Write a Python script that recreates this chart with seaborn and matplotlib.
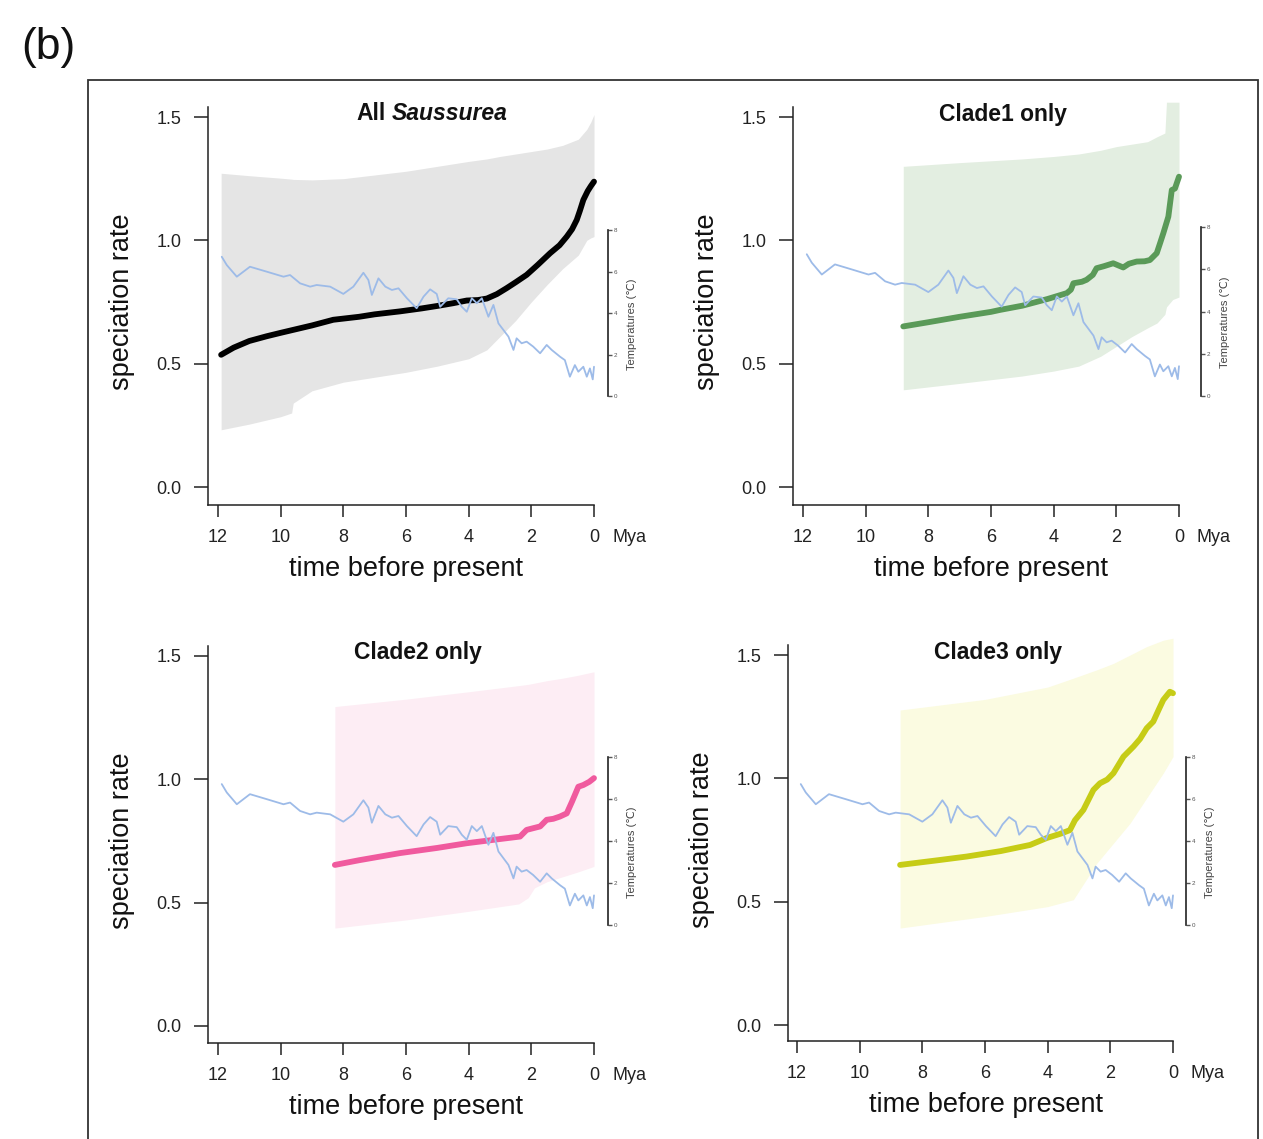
import matplotlib.pyplot as plt
import seaborn as sns
from matplotlib.patches import Rectangle

# palaeo-temperature curve (Mya, degrees C), shared by all panels
temp_age = [11.88, 11.72, 11.40, 11.19, 10.98, 10.44, 9.91, 9.70, 9.38, 9.06, 8.85, 8.42, 8.00,
            7.68, 7.36, 7.20, 7.09, 6.88, 6.66, 6.45, 6.24, 5.97, 5.66, 5.44, 5.23, 5.02, 4.91,
            4.65, 4.38, 4.22, 4.06, 3.90, 3.74, 3.58, 3.37, 3.21, 3.05, 2.89, 2.73, 2.57, 2.47,
            2.31, 2.15, 1.94, 1.72, 1.51, 1.35, 1.08, 0.93, 0.77, 0.61, 0.50, 0.34, 0.23, 0.13,
            0.04, 0.00]
temp_c = [6.71, 6.31, 5.75, 5.99, 6.23, 5.99, 5.75, 5.83, 5.43, 5.27, 5.35, 5.27, 4.92,
          5.27, 5.94, 5.59, 4.87, 5.67, 5.27, 5.11, 5.19, 4.71, 4.23, 4.79, 5.14, 4.92, 4.30,
          4.71, 4.66, 4.30, 4.06, 4.71, 4.47, 4.71, 3.82, 4.39, 3.50, 3.18, 2.86, 2.22, 2.78,
          2.54, 2.62, 2.38, 2.06, 2.46, 2.22, 1.89, 1.73, 0.93, 1.49, 1.17, 1.41, 0.93, 1.33,
          0.80, 1.41]

# All Saussurea
all_age = [11.9, 11.5, 11.0, 10.45, 10.0, 9.5, 9.0, 8.32, 7.5, 7.0, 6.19, 5.5, 5.0, 4.5, 4.06,
           3.7, 3.42, 3.1, 2.79, 2.5, 2.15, 1.8, 1.4, 1.1, 0.87, 0.7, 0.55, 0.45, 0.34, 0.2, 0.1, 0.0]
all_rate = [0.536, 0.565, 0.592, 0.611, 0.625, 0.64, 0.655, 0.678, 0.69, 0.70, 0.712, 0.724,
            0.734, 0.745, 0.756, 0.758, 0.764, 0.782, 0.806, 0.83, 0.86, 0.90, 0.948, 0.98,
            1.015, 1.045, 1.083, 1.12, 1.164, 1.20, 1.22, 1.238]
all_ci_age = [11.9, 11.0, 10.0, 9.65, 9.6, 9.0, 8.0, 7.0, 6.0, 5.0, 4.0, 3.42, 3.0, 2.5, 2.0,
              1.5, 1.0, 0.5, 0.23, 0.1, 0.0]
all_ci_lo = [0.232, 0.255, 0.285, 0.30, 0.34, 0.39, 0.425, 0.445, 0.465, 0.49, 0.52, 0.556,
             0.61, 0.675, 0.75, 0.82, 0.885, 0.94, 1.0, 1.01, 1.015]
all_ci_hi = [1.272, 1.262, 1.252, 1.248, 1.247, 1.245, 1.25, 1.265, 1.28, 1.30, 1.32, 1.33,
             1.34, 1.35, 1.36, 1.37, 1.385, 1.41, 1.45, 1.48, 1.51]

# Clade1
c1_age = [8.8, 8.0, 7.0, 6.0, 5.71, 5.0, 4.2, 3.58, 3.45, 3.37, 3.1, 2.95, 2.75, 2.63, 2.4,
          2.1, 1.78, 1.6, 1.35, 1.1, 0.93, 0.71, 0.6, 0.5, 0.34, 0.23, 0.13, 0.0]
c1_rate = [0.651, 0.668, 0.69, 0.71, 0.718, 0.735, 0.762, 0.786, 0.80, 0.826, 0.832, 0.84,
           0.86, 0.887, 0.895, 0.907, 0.89, 0.905, 0.914, 0.915, 0.92, 0.948, 0.99, 1.029,
           1.096, 1.204, 1.21, 1.258]
c1_ci_age = [8.8, 7.0, 5.0, 4.0, 3.2, 2.5, 2.0, 1.5, 1.0, 0.7, 0.45, 0.4, 0.2, 0.0]
c1_ci_lo = [0.394, 0.42, 0.45, 0.47, 0.49, 0.53, 0.57, 0.61, 0.645, 0.665, 0.70, 0.73, 0.76, 0.77]
c1_ci_hi = [1.30, 1.315, 1.33, 1.34, 1.35, 1.365, 1.38, 1.39, 1.40, 1.42, 1.435, 1.56, 1.56, 1.56]

# Clade2
c2_age = [8.27, 7.5, 6.19, 5.0, 4.06, 3.0, 2.36, 2.15, 2.0, 1.72, 1.51, 1.3, 1.09, 0.87, 0.7,
          0.5, 0.34, 0.15, 0.0]
c2_rate = [0.653, 0.672, 0.701, 0.722, 0.741, 0.758, 0.768, 0.795, 0.80, 0.809, 0.836, 0.84,
           0.849, 0.862, 0.91, 0.97, 0.977, 0.99, 1.005]
c2_ci_age = [8.27, 6.0, 4.0, 2.4, 2.1, 1.9, 1.5, 1.0, 0.5, 0.0]
c2_ci_lo = [0.397, 0.43, 0.465, 0.495, 0.52, 0.56, 0.585, 0.605, 0.625, 0.647]
c2_ci_hi = [1.295, 1.325, 1.355, 1.38, 1.385, 1.39, 1.40, 1.41, 1.422, 1.436]

# Clade3
c3_age = [8.71, 7.5, 6.58, 5.5, 4.56, 4.03, 3.6, 3.29, 3.13, 2.86, 2.54, 2.33, 2.1, 1.9, 1.58,
          1.26, 1.05, 0.84, 0.63, 0.45, 0.31, 0.1, 0.0]
c3_rate = [0.649, 0.668, 0.683, 0.705, 0.73, 0.758, 0.775, 0.79, 0.83, 0.872, 0.953, 0.98,
           0.995, 1.021, 1.088, 1.129, 1.16, 1.203, 1.23, 1.28, 1.318, 1.351, 1.345]
c3_ci_age = [8.71, 6.0, 4.0, 3.18, 2.43, 1.9, 1.37, 0.84, 0.31, 0.0]
c3_ci_lo = [0.393, 0.44, 0.48, 0.508, 0.656, 0.737, 0.818, 0.92, 1.021, 1.088]
c3_ci_hi = [1.277, 1.32, 1.37, 1.406, 1.44, 1.466, 1.50, 1.534, 1.56, 1.568]

y_ticks = [0.0, 0.5, 1.0, 1.5]
x_ticks = [12, 10, 8, 6, 4, 2, 0]
t_ticks = [0, 2, 4, 6, 8]

W, H = 1263, 1139
sns.set_style("white")
plt.rcParams['font.family'] = ['Liberation Sans', 'DejaVu Sans']
plt.rcParams['text.color'] = '#111111'
AX_COL = '#222222'
TEMP_COL = '#9dbbe8'

fig = plt.figure(figsize=(W / 100, H / 100), dpi=100)


def fx(px):
    return px / W


def fy(py):
    return 1 - py / H


def panel(geom, age, rate, ci_age, ci_lo, ci_hi, line_col, fill_col):
    # geom in pixels: y-axis x, x of 12, x of 0, y of 1.5, y of 0, x-axis y,
    # temperature axis x, y of 8 deg, y of 0 deg
    yx, x12, x0, y15, y0, xb, tx, t8, t0 = geom
    top = y15 - 25
    ax = fig.add_axes([fx(yx), fy(xb), (tx - yx) / W, (xb - top) / H])
    ux = (x0 - x12) / 12
    uy = (y0 - y15) / 1.5
    ut = (t0 - t8) / 8

    ax.fill_between(ci_age, ci_lo, ci_hi, color=fill_col, lw=0, zorder=1)
    sns.lineplot(x=age, y=rate, ax=ax, color=line_col, lw=4.2, sort=False, zorder=3)

    ax2 = ax.twinx()
    sns.lineplot(x=temp_age, y=temp_c, ax=ax2, color=TEMP_COL, lw=1.3, sort=False)

    xlim = (12 + (x12 - yx) / ux, -(tx - x0) / ux)
    ylim = (-(xb - y0) / uy, 1.5 + (y15 - top) / uy)
    ax.set_xlim(*xlim)
    ax.set_ylim(*ylim)
    ax2.set_ylim(-(xb - t0) / ut, 8 + (t8 - top) / ut)

    for s in ['top', 'right']:
        ax.spines[s].set_visible(False)
    ax.spines['left'].set_bounds(ylim[0], 1.54)
    ax.spines['bottom'].set_bounds(xlim[0], 0)
    for s in ['left', 'bottom']:
        ax.spines[s].set_linewidth(1.1)
        ax.spines[s].set_color(AX_COL)
    ax.set_yticks(y_ticks)
    ax.set_yticklabels([f"{v:.1f}" for v in y_ticks])
    ax.set_xticks(x_ticks)
    ax.set_xticklabels([str(v) for v in x_ticks])
    ax.xaxis.tick_bottom()
    ax.yaxis.tick_left()
    ax.tick_params(axis='y', direction='out', length=10, width=1.1, pad=9,
                   labelsize=13, colors=AX_COL)
    ax.tick_params(axis='x', direction='out', length=8.5, width=1.1, pad=9,
                   labelsize=13, colors=AX_COL)
    ax.set_ylabel("")
    ax.set_xlabel("")

    for s in ['top', 'left', 'bottom']:
        ax2.spines[s].set_visible(False)
    ax2.spines['right'].set_bounds(0, 8)
    ax2.spines['right'].set_linewidth(1.2)
    ax2.spines['right'].set_color(AX_COL)
    ax2.set_yticks(t_ticks)
    ax2.tick_params(axis='y', direction='out', length=3, width=1, pad=1,
                    labelsize=4.5, colors='#555555')
    ax2.set_ylabel("")

    # axis titles, placed in pixels
    fig.text(fx(yx - 86), fy((y15 + y0) / 2), "speciation rate", rotation=90,
             ha='center', va='center', fontsize=19.5)
    fig.text(fx(yx + 198), fy(xb + 64), "time before present",
             ha='center', va='center', fontsize=19.5)
    fig.text(fx(x0 + 18), fy(xb + 32), "Mya", ha='left', va='center',
             fontsize=13, color=AX_COL)
    fig.text(fx(tx + 24), fy((t8 + t0) / 2 + 11), "Temperatures (℃)", rotation=90,
             ha='center', va='center', fontsize=8, color='#444444',
             family=['Liberation Sans', 'DejaVu Sans'])
    return ax


panel((208, 218, 594, 117, 487, 505, 608, 230, 396), all_age, all_rate,
      all_ci_age, all_ci_lo, all_ci_hi, 'black', '#e5e5e5')
panel((793, 803, 1179, 117, 487, 505, 1201, 227, 396), c1_age, c1_rate,
      c1_ci_age, c1_ci_lo, c1_ci_hi, '#5a9a58', '#e3eee1')
panel((208, 218, 594, 656, 1026, 1043, 608, 757, 925), c2_age, c2_rate,
      c2_ci_age, c2_ci_lo, c2_ci_hi, '#f05a9e', '#fdedf4')
panel((788, 797, 1173, 655, 1025, 1041, 1186, 757, 925), c3_age, c3_rate,
      c3_ci_age, c3_ci_lo, c3_ci_hi, '#c6cc16', '#fbfbe1')

# panel titles
fig.text(fx(386), fy(114), "All", ha='right', va='center', fontsize=16.5, weight='bold')
fig.text(fx(392), fy(114), "Saussurea", ha='left', va='center', fontsize=16.5,
         weight='bold', style='italic')
fig.text(fx(1003), fy(114), "Clade1 only", ha='center', va='center', fontsize=16.5, weight='bold')
fig.text(fx(418), fy(653), "Clade2 only", ha='center', va='center', fontsize=16.5, weight='bold')
fig.text(fx(998), fy(652), "Clade3 only", ha='center', va='center', fontsize=16.5, weight='bold')

fig.text(fx(48), fy(47), "(b)", ha='center', va='center', fontsize=32)
fig.add_artist(Rectangle((fx(88), -0.05), (1258 - 88) / W, fy(80) + 0.05,
                         transform=fig.transFigure, fill=False, lw=1.3, ec='#333333'))

fig.savefig("out.png", dpi=100)
